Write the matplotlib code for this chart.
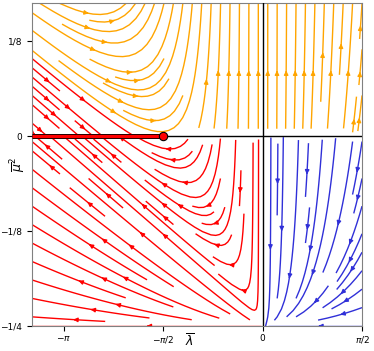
import numpy as np
import matplotlib.pyplot as plt

# plot ranges, ticks and labels
lam_lim = [-3.64, np.pi / 2]
mu_lim = [-0.25, 0.175]
lam_ticks = [-np.pi, -np.pi / 2, 0, np.pi / 2]
lam_ticklabels = [r'$-\pi$', r'$-\pi/2$', '0', r'$\pi/2$']
mu_ticks = [-1 / 4, -1 / 8, 0, 1 / 8]
mu_ticklabels = ['\u22121/4', '\u22121/8', '0', '1/8']

# line of fixed points and its end point
fixed_lam = [-3.64, -np.pi / 2]
fixed_mu = [0, 0]
point_lam = [-np.pi / 2]
point_mu = [0]

K = 2.2


def flow(lam, mu2):
    b = K * lam ** 2
    a = (lam + np.pi / 2 + 2 * np.pi * mu2) * np.clip(1 + 4 * mu2, 0, None)
    return mu2 * b, mu2 * a


def separatrix(lam_end, n=3000):
    # trajectory touching mu^2 = 0 at lambda = -pi/2
    f = lambda x, y: (x + np.pi / 2 + 2 * np.pi * y) * (1 + 4 * y) / (K * x ** 2)
    xs = np.linspace(-np.pi / 2, lam_end, n)
    ys = np.zeros(n)
    for i in range(1, n):
        h = xs[i] - xs[i - 1]
        x, y = xs[i - 1], ys[i - 1]
        k1 = f(x, y)
        k2 = f(x + h, y + h * k1)
        ys[i] = y + h * (k1 + k2) / 2
    return xs[::-1], ys[::-1]


lam = np.linspace(lam_lim[0], lam_lim[1], 300)
mu = np.linspace(mu_lim[0], mu_lim[1], 300)
LAM, MU = np.meshgrid(lam, mu)
U, V = flow(LAM, MU)

sx, sy = separatrix(lam_lim[0] - 0.05)
ysep = np.where(LAM < -np.pi / 2, np.interp(LAM, sx, sy), 0.0)

red_mask = ((MU < 0) & (LAM < 0)) | ((MU > 0) & (MU < ysep))
orange_mask = (MU > 0) & ~red_mask
blue_mask = (MU < 0) & (LAM > 0)

fig = plt.figure(figsize=(3.74, 3.51), dpi=100)
ax = fig.add_axes([0.0856, 0.071, 0.968 - 0.0856, 0.991 - 0.071])

for mask, col in [(orange_mask, 'orange'), (red_mask, 'red'), (blue_mask, '#3030d8')]:
    u = np.ma.array(U, mask=~mask)
    v = np.ma.array(V, mask=~mask)
    ax.streamplot(LAM, MU, u, v, color=col, density=1.2, linewidth=1.0,
                  arrowsize=0.6)

ax.axhline(0, color='black', lw=1.0, zorder=3)
ax.axvline(0, color='black', lw=1.0, zorder=3)
ax.plot(fixed_lam, fixed_mu, color='black', lw=3.6, zorder=4, solid_capstyle='butt')
ax.plot(fixed_lam, fixed_mu, color='red', lw=2.4, zorder=5, solid_capstyle='butt')
ax.plot(point_lam, point_mu, 'o', color='red', mec='black', mew=0.8, ms=6, zorder=6)

ax.set_xlim(lam_lim)
ax.set_ylim(mu_lim)
ax.set_xticks(lam_ticks)
ax.set_xticklabels(lam_ticklabels, fontsize=6.5)
ax.set_yticks(mu_ticks)
ax.set_yticklabels(mu_ticklabels, fontsize=6.5)
ax.tick_params(axis='x', pad=2)
ax.set_xlabel(r'$\overline{\lambda}$', fontsize=9)
ax.set_ylabel(r'$\overline{\mu}^2$', fontsize=9)
ax.xaxis.set_label_coords(0.48, -0.022)
ax.yaxis.set_label_coords(-0.015, 0.5)
for s in ax.spines.values():
    s.set_color('0.5')

fig.savefig('out.png', dpi=100)
